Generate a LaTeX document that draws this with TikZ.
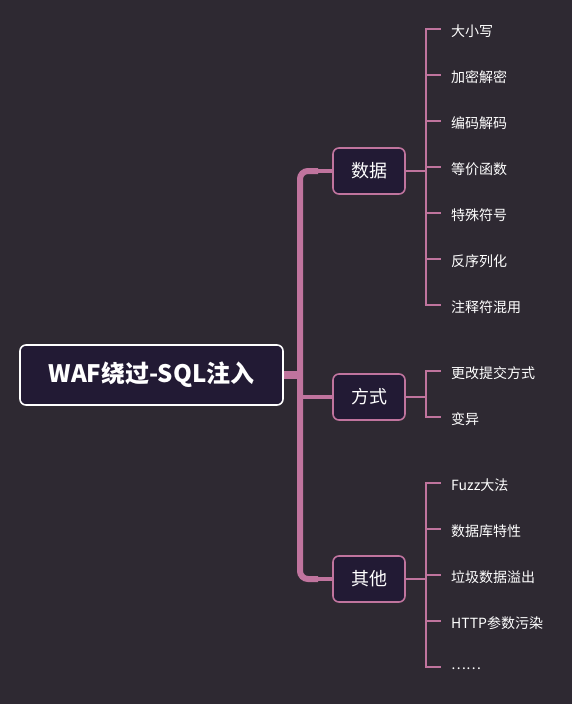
\documentclass[tikz,border=0pt]{standalone}
\usepackage{fontspec}
\setmainfont{Noto Sans CJK SC}
\usetikzlibrary{calc}
\definecolor{bg}{RGB}{46,41,50}
\definecolor{nodefill}{RGB}{34,26,52}
\definecolor{pinkline}{RGB}{192,116,158}
\tikzset{
  rootbox/.style={draw=white, line width=1.6pt, fill=nodefill, rounded corners=6pt, minimum width=263pt, minimum height=60pt, text=white, font=\fontsize{24}{28}\selectfont\bfseries, inner sep=0pt},
  branchbox/.style={draw=pinkline, line width=1.6pt, fill=nodefill, rounded corners=6pt, minimum width=72pt, minimum height=46pt, text=white, font=\fontsize{18}{21}\selectfont, inner sep=0pt},
  leaf/.style={anchor=west, text=white, font=\fontsize{14}{17}\selectfont, inner sep=0pt},
  trunk/.style={draw=pinkline, line width=6pt, rounded corners=8pt},
  thin/.style={draw=pinkline, line width=1.6pt},
}
\begin{document}
\begin{tikzpicture}[x=1pt,y=-1pt]
\fill[bg] (0,0) rectangle (572,704);
\useasboundingbox (0,0) rectangle (572,704);

\node[rootbox] (root) at (151.5,375) {WAF绕过-SQL注入};
\node[branchbox] (b1) at (369,171) {数据};
\node[branchbox] (b2) at (369,397) {方式};
\node[branchbox] (b3) at (369,579) {其他};

% trunk
\draw[trunk] ([xshift=-14pt]b1.west) -- (300,171) -- (300,579) -- ([xshift=-14pt]b3.west);
\draw[pinkline, line width=4pt] ([xshift=-16pt]b1.west) -- (b1.west);
\draw[pinkline, line width=4pt] ([xshift=-16pt]b3.west) -- (b3.west);
\draw[pinkline, line width=8pt] (root.east) -- (300,375);
\draw[pinkline, line width=4pt] (300,397) -- (b2.west);

% leaves of b1
\node[leaf] (l11) at (451,31) {大小写};
\node[leaf] (l12) at (451,77) {加密解密};
\node[leaf] (l13) at (451,123) {编码解码};
\node[leaf] (l14) at (451,169) {等价函数};
\node[leaf] (l15) at (451,215) {特殊符号};
\node[leaf] (l16) at (451,261) {反序列化};
\node[leaf] (l17) at (451,307) {注释符混用};
\coordinate (j1) at (426,171);
\draw[thin] (b1.east) -- (j1);
\foreach \i in {1,...,7}{
  \draw[thin] (j1) |- ([xshift=-10pt,yshift=2pt]l1\i.west);
}

% leaves of b2
\node[leaf] (l21) at (451,373) {更改提交方式};
\node[leaf] (l22) at (451,419) {变异};
\coordinate (j2) at (426,397);
\draw[thin] (b2.east) -- (j2);
\foreach \i in {1,2}{
  \draw[thin] (j2) |- ([xshift=-10pt,yshift=2pt]l2\i.west);
}

% leaves of b3
\node[leaf] (l31) at (451,485) {Fuzz大法};
\node[leaf] (l32) at (451,531) {数据库特性};
\node[leaf] (l33) at (451,577) {垃圾数据溢出};
\node[leaf] (l34) at (451,623) {HTTP参数污染};
\node[leaf] (l35) at (451,669) {……};
\coordinate (j3) at (426,579);
\draw[thin] (b3.east) -- (j3);
\foreach \i in {1,...,5}{
  \draw[thin] (j3) |- ([xshift=-10pt,yshift=2pt]l3\i.west);
}
\end{tikzpicture}
\end{document}
